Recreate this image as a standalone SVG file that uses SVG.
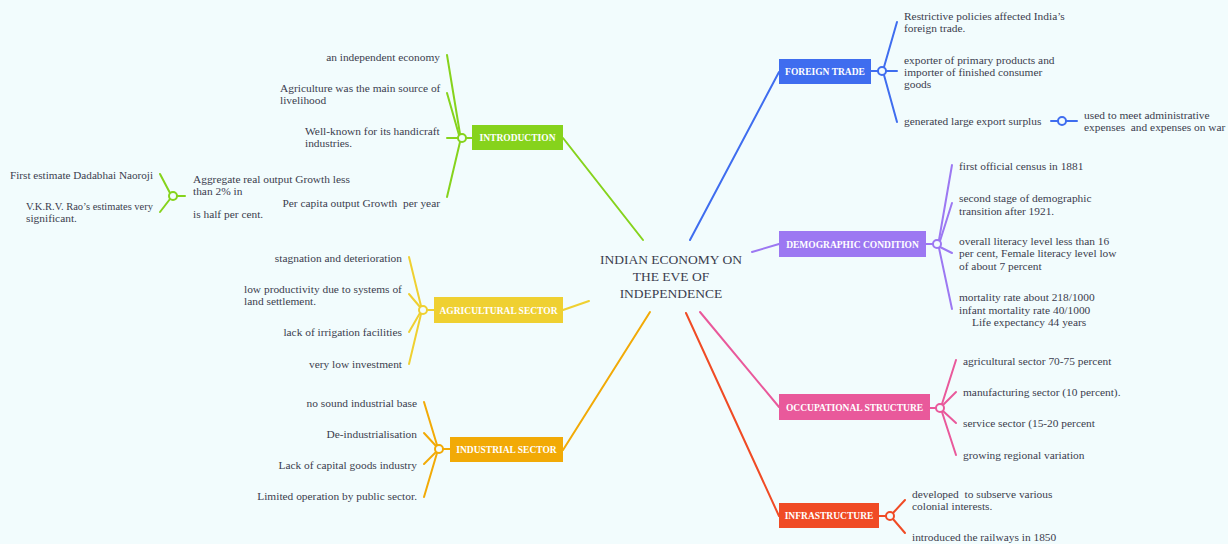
<svg xmlns="http://www.w3.org/2000/svg" width="1228" height="544" viewBox="0 0 1228 544">
  <style>
    .bg { fill: #f2fcfd; }
    .t { font-family: "Liberation Serif", "DejaVu Serif", serif; font-size: 11.4px; fill: #3b3d4e; }
    .r { text-anchor: end; }
    .title { font-family: "Liberation Serif", "DejaVu Serif", serif; font-size: 13.5px; fill: #3b3d4e; text-anchor: middle; }
    .lbl { font-family: "Liberation Serif", "DejaVu Serif", serif; font-size: 9.5px; font-weight: bold; fill: #ffffff; text-anchor: middle; }
    .ln { fill: none; stroke-width: 2; stroke-linecap: round; }
    .jn { fill: #f2fcfd; stroke-width: 2; }
    .green { stroke: #86d31c; } .fgreen { fill: #86d31c; }
    .blue { stroke: #3f6def; } .fblue { fill: #3f6def; }
    .purple { stroke: #9c78f2; } .fpurple { fill: #9c78f2; }
    .pink { stroke: #e9599b; } .fpink { fill: #e9599b; }
    .red { stroke: #f04b25; } .fred { fill: #f04b25; }
    .orange { stroke: #f2aa06; } .forange { fill: #f2aa06; }
    .yellow { stroke: #efd031; } .fyellow { fill: #efd031; }
  </style>

  <rect class="bg" x="0" y="0" width="1228" height="544"/>

  <!-- connectors: main branches and topic fans -->
  <g id="connectors">
    <!-- central topic to main topics -->
    <line class="ln green" x1="643" y1="240" x2="563" y2="138"/>
    <line class="ln blue" x1="690" y1="240" x2="779" y2="72"/>
    <line class="ln purple" x1="752" y1="252" x2="779" y2="244"/>
    <line class="ln pink" x1="700" y1="312" x2="779" y2="407"/>
    <line class="ln red" x1="686" y1="313" x2="779" y2="516"/>
    <line class="ln orange" x1="650" y1="312" x2="563" y2="450"/>
    <line class="ln yellow" x1="589" y1="301" x2="563" y2="310"/>

    <!-- INTRODUCTION fan -->
    <line class="ln green" x1="472" y1="138" x2="466" y2="138"/>
    <line class="ln green" x1="460" y1="134" x2="447" y2="55"/>
    <line class="ln green" x1="459" y1="135" x2="447" y2="93"/>
    <line class="ln green" x1="458" y1="138" x2="447" y2="138"/>
    <line class="ln green" x1="460" y1="142" x2="447" y2="197"/>
    <!-- sub fan under the growth topic -->
    <line class="ln green" x1="185" y1="196" x2="177" y2="196"/>
    <line class="ln green" x1="170" y1="193" x2="160" y2="174"/>
    <line class="ln green" x1="170" y1="199" x2="160" y2="212"/>

    <!-- AGRICULTURAL SECTOR fan -->
    <line class="ln yellow" x1="434" y1="310" x2="427" y2="310"/>
    <line class="ln yellow" x1="421" y1="306" x2="409" y2="257"/>
    <line class="ln yellow" x1="420" y1="307" x2="409" y2="294"/>
    <line class="ln yellow" x1="420" y1="313" x2="409" y2="332"/>
    <line class="ln yellow" x1="421" y1="314" x2="409" y2="364"/>

    <!-- INDUSTRIAL SECTOR fan -->
    <line class="ln orange" x1="450" y1="449" x2="443" y2="449"/>
    <line class="ln orange" x1="437" y1="445" x2="424" y2="402"/>
    <line class="ln orange" x1="436" y1="446" x2="424" y2="433"/>
    <line class="ln orange" x1="436" y1="452" x2="424" y2="464"/>
    <line class="ln orange" x1="437" y1="453" x2="424" y2="497"/>

    <!-- FOREIGN TRADE fan -->
    <line class="ln blue" x1="871" y1="71" x2="878" y2="71"/>
    <line class="ln blue" x1="884" y1="67" x2="897" y2="22"/>
    <line class="ln blue" x1="886" y1="71" x2="897" y2="71"/>
    <line class="ln blue" x1="884" y1="75" x2="897" y2="122"/>
    <line class="ln blue" x1="1051" y1="121" x2="1058" y2="121"/>
    <line class="ln blue" x1="1066" y1="121" x2="1077" y2="121"/>

    <!-- DEMOGRAPHIC CONDITION fan -->
    <line class="ln purple" x1="926" y1="244" x2="933" y2="244"/>
    <line class="ln purple" x1="939" y1="240" x2="952" y2="165"/>
    <line class="ln purple" x1="940" y1="241" x2="952" y2="203"/>
    <line class="ln purple" x1="940" y1="247" x2="952" y2="253"/>
    <line class="ln purple" x1="939" y1="248" x2="952" y2="309"/>

    <!-- OCCUPATIONAL STRUCTURE fan -->
    <line class="ln pink" x1="930" y1="408" x2="936" y2="408"/>
    <line class="ln pink" x1="942" y1="404" x2="956" y2="360"/>
    <line class="ln pink" x1="943" y1="405" x2="956" y2="392"/>
    <line class="ln pink" x1="943" y1="411" x2="956" y2="423"/>
    <line class="ln pink" x1="942" y1="412" x2="956" y2="455"/>

    <!-- INFRASTRUCTURE fan -->
    <line class="ln red" x1="879" y1="516" x2="886" y2="516"/>
    <line class="ln red" x1="893" y1="513" x2="905" y2="500"/>
    <line class="ln red" x1="893" y1="519" x2="905" y2="533"/>

    <!-- junction rings -->
    <circle class="jn green" cx="462" cy="138" r="4"/>
    <circle class="jn green" cx="173" cy="196" r="4"/>
    <circle class="jn yellow" cx="423" cy="310" r="4"/>
    <circle class="jn orange" cx="439" cy="449" r="4"/>
    <circle class="jn blue" cx="882" cy="71" r="4"/>
    <circle class="jn blue" cx="1062" cy="121" r="4"/>
    <circle class="jn purple" cx="937" cy="244" r="4"/>
    <circle class="jn pink" cx="940" cy="408" r="4"/>
    <circle class="jn red" cx="890" cy="516" r="4"/>
  </g>

  <!-- central topic -->
  <g id="central">
    <text class="title" x="671" y="264">INDIAN ECONOMY ON</text>
    <text class="title" x="671" y="281">THE EVE OF</text>
    <text class="title" x="671" y="298">INDEPENDENCE</text>
  </g>

  <!-- INTRODUCTION -->
  <g id="introduction">
    <rect class="fgreen" x="472" y="125" width="91" height="25"/>
    <text class="lbl" x="517.5" y="141">INTRODUCTION</text>
  </g>
  <g id="intro-items">
    <text class="t r" x="440" y="61">an independent economy</text>
    <text class="t" x="280" y="92">Agriculture was the main source of</text>
    <text class="t" x="280" y="104">livelihood</text>
    <text class="t" x="305" y="135">Well-known for its handicraft</text>
    <text class="t" x="305" y="147">industries.</text>
    <text class="t r" x="440" y="207" xml:space="preserve">Per capita output Growth  per year</text>
  </g>
  <g id="growth">
    <text class="t" x="193" y="183">Aggregate real output Growth less</text>
    <text class="t" x="193" y="195">than 2% in</text>
    <text class="t" x="193" y="218">is half per cent.</text>
  </g>
  <g id="growth-items">
    <text class="t" x="10" y="179" textLength="143" lengthAdjust="spacingAndGlyphs">First estimate Dadabhai Naoroji</text>
    <text class="t" x="26" y="210" textLength="127" lengthAdjust="spacingAndGlyphs">V.K.R.V. Rao’s estimates very</text>
    <text class="t" x="26" y="222">significant.</text>
  </g>

  <!-- AGRICULTURAL SECTOR -->
  <g id="agricultural">
    <rect class="fyellow" x="434" y="297" width="129" height="26"/>
    <text class="lbl" x="498.5" y="313.5">AGRICULTURAL SECTOR</text>
  </g>
  <g id="agri-items">
    <text class="t r" x="402" y="262">stagnation and deterioration</text>
    <text class="t" x="244" y="293">low productivity due to systems of</text>
    <text class="t" x="244" y="305">land settlement.</text>
    <text class="t r" x="402" y="336">lack of irrigation facilities</text>
    <text class="t r" x="402" y="368">very low investment</text>
  </g>

  <!-- INDUSTRIAL SECTOR -->
  <g id="industrial">
    <rect class="forange" x="450" y="437" width="113" height="25"/>
    <text class="lbl" x="506.5" y="453">INDUSTRIAL SECTOR</text>
  </g>
  <g id="industrial-items">
    <text class="t r" x="417" y="407">no sound industrial base</text>
    <text class="t r" x="417" y="438">De-industrialisation</text>
    <text class="t r" x="417" y="469">Lack of capital goods industry</text>
    <text class="t r" x="417" y="500">Limited operation by public sector.</text>
  </g>

  <!-- FOREIGN TRADE -->
  <g id="foreign-trade">
    <rect class="fblue" x="779" y="59" width="92" height="25"/>
    <text class="lbl" x="825" y="75">FOREIGN TRADE</text>
  </g>
  <g id="trade-items">
    <text class="t" x="904" y="20">Restrictive policies affected India’s</text>
    <text class="t" x="904" y="32">foreign trade.</text>
    <text class="t" x="904" y="64">exporter of primary products and</text>
    <text class="t" x="904" y="76">importer of finished consumer</text>
    <text class="t" x="904" y="88">goods</text>
    <text class="t" x="904" y="125">generated large export surplus</text>
    <text class="t" x="1084" y="119">used to meet administrative</text>
    <text class="t" x="1084" y="131" xml:space="preserve">expenses  and expenses on war</text>
  </g>

  <!-- DEMOGRAPHIC CONDITION -->
  <g id="demographic">
    <rect class="fpurple" x="779" y="231" width="147" height="26"/>
    <text class="lbl" x="852.5" y="247.5">DEMOGRAPHIC CONDITION</text>
  </g>
  <g id="demographic-items">
    <text class="t" x="959" y="170">first official census in 1881</text>
    <text class="t" x="959" y="202">second stage of demographic</text>
    <text class="t" x="959" y="215">transition after 1921.</text>
    <text class="t" x="959" y="245">overall literacy level less than 16</text>
    <text class="t" x="959" y="257">per cent, Female literacy level low</text>
    <text class="t" x="959" y="270">of about 7 percent</text>
    <text class="t" x="959" y="301">mortality rate about 218/1000</text>
    <text class="t" x="959" y="314">infant mortality rate 40/1000</text>
    <text class="t" x="972" y="326">Life expectancy 44 years</text>
  </g>

  <!-- OCCUPATIONAL STRUCTURE -->
  <g id="occupational">
    <rect class="fpink" x="779" y="394" width="151" height="26"/>
    <text class="lbl" x="854.5" y="410.5">OCCUPATIONAL STRUCTURE</text>
  </g>
  <g id="occupational-items">
    <text class="t" x="963" y="365">agricultural sector 70-75 percent</text>
    <text class="t" x="963" y="396">manufacturing sector (10 percent).</text>
    <text class="t" x="963" y="427">service sector (15-20 percent</text>
    <text class="t" x="963" y="459">growing regional variation</text>
  </g>

  <!-- INFRASTRUCTURE -->
  <g id="infrastructure">
    <rect class="fred" x="779" y="503" width="100" height="25"/>
    <text class="lbl" x="829" y="519">INFRASTRUCTURE</text>
  </g>
  <g id="infrastructure-items">
    <text class="t" x="912" y="498" xml:space="preserve">developed  to subserve various</text>
    <text class="t" x="912" y="510">colonial interests.</text>
    <text class="t" x="912" y="541">introduced the railways in 1850</text>
  </g>
</svg>
